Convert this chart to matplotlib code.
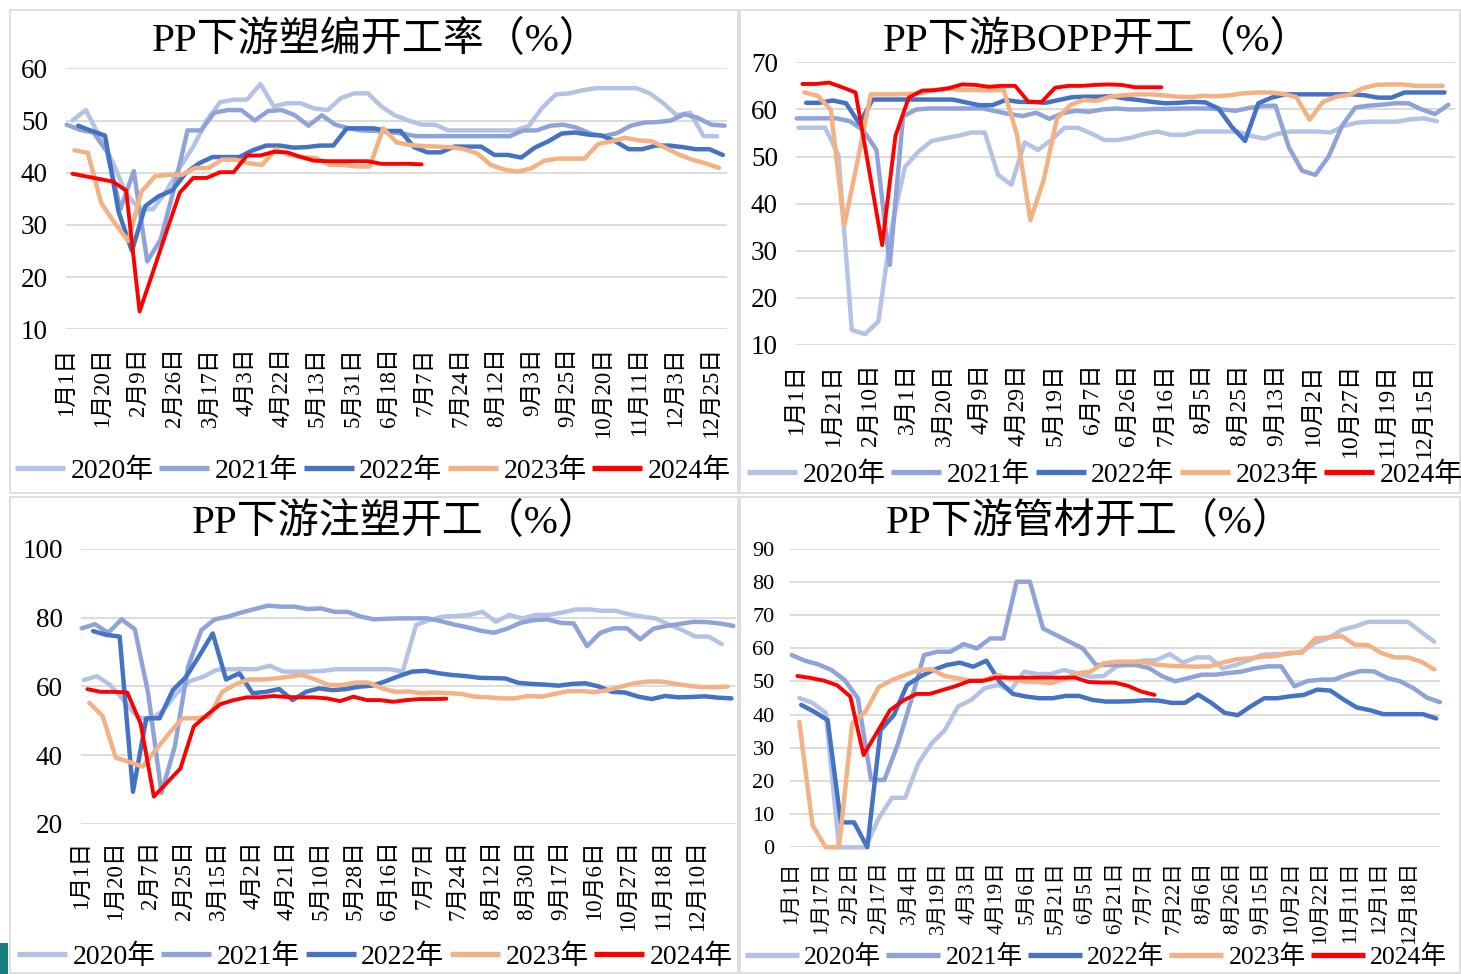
import numpy as np
import matplotlib
matplotlib.use("Agg")
import matplotlib.pyplot as plt
from matplotlib.patches import Rectangle
from matplotlib.lines import Line2D

plt.rcParams['font.family'] = ['Liberation Serif', 'Noto Sans CJK SC']

years = ['2020年', '2021年', '2022年', '2023年', '2024年']
colors = ['#b4c3e4', '#8fa3d8', '#4472c4', '#f4b183', '#ff0000']
line_widths = [3.2, 3.2, 3.2, 3.2, 2.8]

# ---------------- 塑编 ----------------
weaving_labels = ['1月1日', '1月20日', '2月9日', '2月26日', '3月17日', '4月3日', '4月22日',
                  '5月13日', '5月31日', '6月18日', '7月7日', '7月24日', '8月12日', '9月3日',
                  '9月25日', '10月20日', '11月11日', '12月3日', '12月25日']
weaving_first_day = [3, 0, 6, 4, 3]
weaving_2020 = [50, 52, 47, 42, 36, 33, 33, 36.5, 41, 45, 50, 53.5, 54, 54, 57, 52.7, 53.3, 53.3,
                52.3, 52, 54.3, 55.2, 55.2, 52.7, 51, 50, 49.2, 49.2, 48.1, 48.1, 48.1, 48.1, 48.1,
                48.1, 49, 52.5, 55, 55.2, 55.8, 56.2, 56.2, 56.2, 56.2, 55.2, 53.3, 51, 51.5, 47, 47]
weaving_2021 = [49.2, 48.2, 47.7, 44, 33, 40.3, 23, 27.2, 37, 48.1, 48.1, 51.5, 52, 52, 50, 51.8,
                52, 51, 49, 51, 49.2, 48.5, 48.1, 48, 47.8, 47.5, 47, 47, 47, 47, 47, 47, 47, 47,
                48.1, 48.1, 49, 49.2, 48.6, 47.5, 47, 47.6, 49, 49.6, 49.7, 50, 51.2, 50.5, 49.2, 49]
weaving_2022 = [49, 48, 47.1, 32.6, 25, 33.6, 35.5, 36.6, 39.9, 41.8, 43, 43, 43, 44.3, 45.2, 45.2,
                44.8, 44.9, 45.2, 45.2, 48.5, 48.5, 48.5, 48, 48, 44.9, 43.9, 43.9, 45, 45, 45,
                43.4, 43.4, 42.9, 44.8, 46, 47.5, 47.7, 47.3, 47.1, 46, 44.5, 44.5, 45.2, 45.2,
                44.9, 44.5, 44.5, 43.4]
weaving_2023 = [44.3, 43.8, 34.2, 30.4, 26.9, 36.4, 39.3, 39.6, 39.6, 40.9, 40.9, 42.5, 42.5, 41.8,
                41.5, 44.5, 43.4, 43, 42.8, 41.5, 41.5, 41.2, 41.2, 48.5, 45.8, 45.3, 45.1, 45,
                44.9, 44.5, 43.7, 41.5, 40.6, 40.2, 40.8, 42.3, 42.7, 42.7, 42.7, 45.5, 46, 46.7,
                46.2, 46, 44.8, 43.5, 42.5, 41.8, 40.9]
weaving_2024 = [39.8, 39.3, 38.8, 38.3, 36.6, 13.4, 21, 28.7, 36.2, 39, 39, 40.1, 40.1, 43.3, 43.3,
                44, 43.9, 43, 42.3, 42.2, 42.2, 42.2, 42.2, 41.7, 41.7, 41.7, 41.6]

# ---------------- BOPP ----------------
bopp_labels = ['1月1日', '1月21日', '2月10日', '3月1日', '3月20日', '4月9日', '4月29日', '5月19日',
               '6月7日', '6月26日', '7月16日', '8月5日', '8月25日', '9月13日', '10月2日',
               '10月27日', '11月19日', '12月15日']
bopp_first_day = [1, 0, 5, 4, 3]
bopp_2020 = [56.1, 56.1, 56.1, 50.3, 13.2, 12.3, 15, 35, 47.8, 51, 53.3, 53.9, 54.4, 55.1, 55.1,
             46.1, 44, 53, 51.4, 53.5, 56.1, 56.1, 54.9, 53.5, 53.5, 54, 54.8, 55.3, 54.6, 54.6,
             55.3, 55.3, 55.3, 55.3, 54.4, 53.8, 54.8, 55.3, 55.3, 55.3, 55.1, 56.5, 57.2, 57.4,
             57.4, 57.4, 57.9, 58.1, 57.5]
bopp_2021 = [58.1, 58.1, 58.1, 58.1, 57.5, 55.6, 51.4, 27, 58.5, 60, 60.2, 60.2, 60.2, 60.2, 60.2,
             59.6, 59, 58.6, 59.3, 58, 59.2, 59.7, 59.5, 60, 60.2, 60, 60, 60.1, 60.1, 60.2, 60.2,
             60.2, 60, 59.7, 60.3, 60.7, 60.8, 52, 47, 46.1, 50, 56.5, 60.4, 60.8, 61, 61.3, 61.3,
             60, 59, 61]
bopp_2022 = [61.4, 61.4, 61.9, 61.3, 57, 62.1, 62.1, 62.1, 62.1, 62.1, 62.1, 62.1, 61.5, 60.9, 60.9,
             62, 61.6, 61.6, 61.4, 62, 62.6, 62.7, 62.7, 62.8, 62.3, 62, 61.6, 61.3, 61.4, 61.6,
             61.5, 60.2, 56.3, 53.3, 61.3, 62.5, 63.2, 63.2, 63.2, 63.2, 63.2, 63.2, 63, 62.5,
             62.5, 63.6, 63.6, 63.6, 63.6]
bopp_2023 = [63.6, 62.9, 59.9, 35.3, 49, 63.2, 63.2, 63.2, 63.3, 63.6, 64.2, 64.4, 64.1, 64.1, 64.1,
             64.1, 54.6, 36.5, 45, 58.1, 60.9, 62, 61.8, 62.7, 63, 63.2, 63.2, 63, 62.7, 62.6,
             62.9, 62.8, 63, 63.4, 63.6, 63.6, 63.3, 62.6, 57.8, 61.6, 62.7, 63.1, 64.5, 65.2,
             65.3, 65.3, 65, 65, 65]
bopp_2024 = [65.4, 65.4, 65.7, 64.7, 63.6, 47.4, 31.2, 54.4, 62.5, 64, 64.1, 64.5, 65.3, 65.2, 64.8,
             65, 65, 61.6, 61.6, 64.6, 65, 65, 65.2, 65.3, 65.2, 64.7, 64.7, 64.7]

# ---------------- 注塑 ----------------
inj_labels = ['1月1日', '1月20日', '2月7日', '2月25日', '3月15日', '4月2日', '4月21日', '5月10日',
              '5月28日', '6月16日', '7月7日', '7月24日', '8月12日', '8月30日', '9月17日', '10月6日',
              '10月27日', '11月18日', '12月10日']
inj_first_day = [1, 0, 6, 4, 3]
inj_2020 = [61.8, 63, 60.4, 56, 51.2, 50.2, 53, 58, 61.5, 62.8, 64.8, 65, 65, 65, 66, 64.3, 64.3,
            64.3, 64.5, 65, 65, 65, 65, 65, 64.3, 77.9, 79.3, 80.3, 80.5, 80.8, 81.7, 78.8, 80.8,
            79.8, 80.8, 80.8, 81.5, 82.4, 82.4, 82, 82, 81, 80.3, 79.8, 78, 76.4, 74.5, 74.5, 72.3]
inj_2021 = [76.9, 78.1, 75.6, 79.5, 76.6, 58, 29, 42.4, 65.7, 76.4, 79.5, 80.3, 81.5, 82.5, 83.5,
            83.2, 83.2, 82.5, 82.7, 81.7, 81.7, 80.3, 79.5, 79.7, 79.8, 79.8, 79.8, 79, 78, 77.2,
            76.2, 75.6, 76.8, 78.5, 79.3, 79.5, 78.5, 78.3, 71.7, 75.6, 76.9, 76.9, 73.7, 76.8,
            77.6, 78.2, 78.8, 78.7, 78.3, 77.6]
inj_2022 = [76.1, 75, 74.5, 29.3, 50.7, 50.7, 58.9, 62.8, 69, 75.4, 62, 63.8, 58, 58.4, 59.2, 56,
            58.4, 59.4, 58.9, 59.2, 59.9, 60.2, 61.5, 63, 64.3, 64.5, 63.8, 63.3, 63, 62.5, 62.4,
            62.3, 61, 60.7, 60.5, 60.2, 60.7, 60.9, 60, 58.4, 58.2, 57, 56.3, 57.2, 56.8, 56.9,
            57.1, 56.7, 56.5]
inj_2023 = [55.2, 51.4, 39.2, 38, 36.6, 41.5, 46.3, 50.7, 50.7, 51.2, 58.4, 60.6, 62, 62, 62.3,
            62.8, 63.3, 62, 60.4, 60.4, 61.1, 61.1, 59.4, 58.4, 58.5, 58, 58.2, 58, 57.8, 57, 56.8,
            56.5, 56.5, 57.2, 57, 57.8, 58.6, 58.6, 58.3, 58.9, 59.9, 60.9, 61.4, 61.4, 60.8,
            60.2, 59.8, 59.8, 59.9]
inj_2024 = [59.2, 58.4, 58.4, 58.2, 49.2, 27.9, 32, 36.1, 48.3, 51.7, 54.8, 56, 56.8, 56.8, 57.2,
            56.9, 56.8, 56.8, 56.5, 55.7, 57, 56, 56, 55.5, 56, 56.3, 56.3, 56.4]

# ---------------- 管材 ----------------
pipe_labels = ['1月1日', '1月17日', '2月2日', '2月17日', '3月4日', '3月19日', '4月3日', '4月19日',
               '5月6日', '5月21日', '6月5日', '6月21日', '7月7日', '7月22日', '8月6日', '8月26日',
               '9月15日', '10月2日', '10月22日', '11月11日', '12月1日', '12月18日']
pipe_first_day = [4, 0, 5, 4, 3]
pipe_2020 = [45, 43.5, 40.5, 0, 0, 0, 8.7, 14.9, 14.9, 25.3, 31.3, 35.3, 42.4, 44.4, 47.9, 48.9,
             47.4, 52.9, 52.2, 52.2, 53.4, 52.4, 51.4, 51.6, 54.5, 55.5, 56.2, 56.4, 58.2, 55.6,
             57.2, 57.2, 53.9, 54.9, 56.4, 58, 58.2, 58.2, 59, 61.6, 63, 65.5, 66.5, 67.9, 67.9,
             67.9, 67.9, 64.9, 61.9]
pipe_2021 = [57.9, 56.2, 55.1, 53.4, 50.4, 44.9, 20.3, 20.3, 30.8, 43.9, 57.9, 58.9, 58.9, 61.2,
             59.9, 62.9, 62.9, 80, 80, 65.9, 63.9, 61.9, 59.9, 54.9, 54.9, 54.9, 54.9, 54, 51.5,
             50, 51, 52, 52, 52.5, 52.9, 53.9, 54.5, 54.5, 48.5, 50.1, 50.5, 50.5, 52, 53.1, 53,
             51, 50, 47.9, 45.1, 43.7]
pipe_2022 = [42.9, 40.8, 38.3, 7.5, 7.5, 0, 35.3, 39.8, 48.9, 51.4, 53.4, 54.9, 55.6, 54.4, 56.2,
             49.9, 46.2, 45.4, 44.9, 44.9, 45.6, 45.6, 44.4, 43.9, 43.9, 44, 44.3, 44.2, 43.5,
             43.5, 46, 43.5, 40.5, 39.8, 42.5, 44.9, 44.9, 45.5, 45.9, 47.5, 47.2, 44.5, 42.1,
             41.3, 40.1, 40.1, 40.1, 40.1, 38.8]
pipe_2023 = [37.8, 6.7, 0, 0, 37.3, 40.8, 48.2, 50.4, 51.9, 53.4, 53.6, 51.6, 50.9, 50.2, 50.4,
             51.9, 50.6, 49.9, 49.9, 49.4, 50.6, 52.4, 52.9, 55.4, 55.9, 55.9, 55.9, 55, 54.7,
             54.5, 54.4, 54.5, 55.6, 56.6, 56.9, 57.4, 57.6, 58.6, 58.6, 62.9, 63.2, 63.6, 61,
             60.9, 58.5, 57.2, 57.2, 55.9, 53.6]
pipe_2024 = [51.6, 51, 50.2, 48.8, 45.4, 27.8, 34.5, 41.3, 44.2, 46.2, 46.2, 47.4, 48.6, 50.1,
             50.1, 51.1, 51.1, 51.1, 51.1, 51.1, 51.1, 51.1, 49.8, 49.6, 49.6, 48.6, 46.9, 45.9]

W, H = 1461, 974
fig = plt.figure(figsize=(W / 100, H / 100), dpi=100)
fig.patch.set_facecolor('white')


def fig_rect(x0, y0, x1, y1):
    return [x0 / W, 1 - y1 / H, (x1 - x0) / W, (y1 - y0) / H]


panels = [
    dict(title='PP下游塑编开工率（%）', title_xy=(376, 41), box=(10, 10, 738, 493),
         axes=(66, 68.3, 727, 329.3), xlim=(-0.05, 49.17), ylim=(10, 60), ystep=10,
         series=[weaving_2020, weaving_2021, weaving_2022, weaving_2023, weaving_2024],
         first_day=weaving_first_day, labels=weaving_labels, label_step=8 / 3,
         ysize=19.5, xsize=16.5, ypad=13, xpad=13, legend_xy=(373, 471), legend_size=20,
         handle_len=1.8),
    dict(title='PP下游BOPP开工（%）', title_xy=(1097, 41), box=(740, 10, 1460, 493),
         axes=(796, 62.3, 1455, 345), xlim=(-0.05, 49.5), ylim=(10, 70), ystep=10,
         series=[bopp_2020, bopp_2021, bopp_2022, bopp_2023, bopp_2024],
         first_day=bopp_first_day, labels=bopp_labels, label_step=2.775,
         ysize=19.5, xsize=17, ypad=13, xpad=13, legend_xy=(1105, 475), legend_size=20,
         handle_len=1.8),
    dict(title='PP下游注塑开工（%）', title_xy=(396, 523), box=(10, 497, 738, 973),
         axes=(81, 549, 736, 823.7), xlim=(-0.05, 49.2), ylim=(20, 100), ystep=20,
         series=[inj_2020, inj_2021, inj_2022, inj_2023, inj_2024],
         first_day=inj_first_day, labels=inj_labels, label_step=18 / 7,
         ysize=19.5, xsize=16.5, ypad=13, xpad=12, legend_xy=(375, 957), legend_size=20,
         handle_len=1.8),
    dict(title='PP下游管材开工（%）', title_xy=(1090, 523), box=(740, 497, 1460, 973),
         axes=(790, 548.5, 1440, 847.3), xlim=(-0.13, 49.0), ylim=(0, 90), ystep=10,
         series=[pipe_2020, pipe_2021, pipe_2022, pipe_2023, pipe_2024],
         first_day=pipe_first_day, labels=pipe_labels, label_step=2.222,
         ysize=16, xsize=15, ypad=11, xpad=10, legend_xy=(1096, 957), legend_size=18.5,
         handle_len=2.1),
]

for p in panels:
    x0, y0, x1, y1 = p['box']
    fig.add_artist(Rectangle((x0 / W, 1 - y1 / H), (x1 - x0) / W, (y1 - y0) / H,
                             transform=fig.transFigure, fill=False,
                             edgecolor='#d9d9d9', linewidth=1.2))

    ax = fig.add_axes(fig_rect(*p['axes']))
    ax.set_facecolor('none')
    for vals, day0, c, lw in zip(p['series'], p['first_day'], colors, line_widths):
        x = (day0 + 7 * np.arange(len(vals))) / 7.0
        ax.plot(x, vals, color=c, lw=lw, solid_joinstyle='round',
                solid_capstyle='round', clip_on=False)

    ax.set_xlim(*p['xlim'])
    ax.set_ylim(*p['ylim'])
    ax.set_yticks(np.arange(p['ylim'][0], p['ylim'][1] + 1, p['ystep']))
    ax.yaxis.grid(True, color='#d9d9d9', linewidth=1.3)
    ax.set_axisbelow(True)
    ax.set_xticks(np.arange(len(p['labels'])) * p['label_step'])
    ax.set_xticklabels(p['labels'], rotation=90)
    ax.tick_params(axis='both', length=0)
    ax.tick_params(axis='y', labelsize=p['ysize'], pad=p['ypad'])
    ax.tick_params(axis='x', labelsize=p['xsize'], pad=p['xpad'])
    for s in ax.spines.values():
        s.set_visible(False)

    tx, ty = p['title_xy']
    fig.text(tx / W, 1 - ty / H, p['title'], ha='center', va='center', fontsize=29.5)

    handles = [Line2D([], [], color=c, lw=3.8, solid_capstyle='butt') for c in colors]
    lx, ly = p['legend_xy']
    fig.legend(handles, years, loc='center', bbox_to_anchor=(lx / W, 1 - ly / H),
               ncol=5, frameon=False, fontsize=p['legend_size'], handlelength=p['handle_len'],
               handletextpad=0.2, columnspacing=0.2, borderpad=0, borderaxespad=0)

fig.add_artist(Rectangle((0, 0), 8 / W, 31 / H, transform=fig.transFigure,
                         facecolor='#17807f', edgecolor='none'))

fig.savefig('out.png', dpi=100, facecolor='white')
